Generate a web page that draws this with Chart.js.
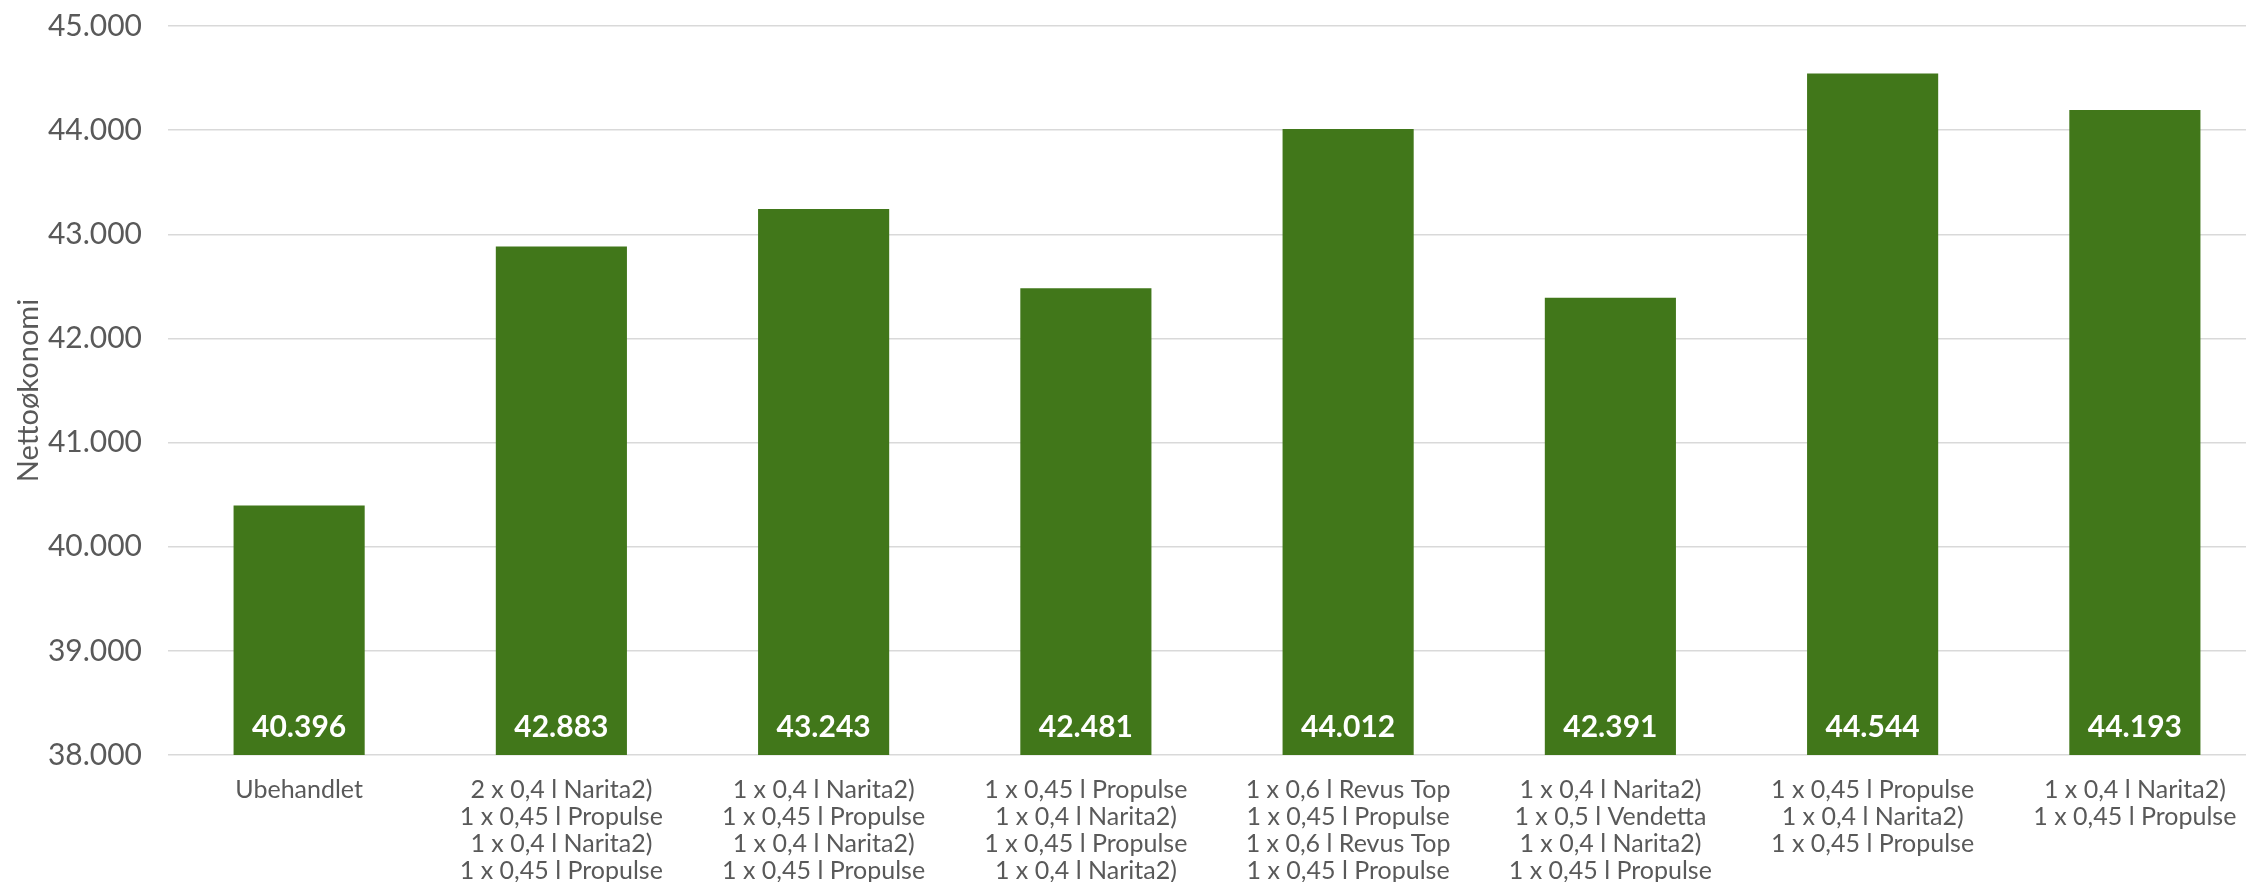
<!DOCTYPE html>
<html>
<head>
<meta charset="utf-8">
<script src="https://cdn.jsdelivr.net/npm/chart.js@4"></script>
<style>
  html, body { margin: 0; padding: 0; background: #fff; overflow: hidden; }
  #wrap { position: absolute; left: 0; top: 0; width: 2266px; height: 882px; }
</style>
</head>
<body>
<div id="wrap"><canvas id="nettoChart"></canvas></div>
<script>
const categories = [
  "Ubehandlet",
  ["2 x 0,4 l Narita2)", "1 x 0,45 l Propulse", "1 x 0,4 l Narita2)", "1 x 0,45 l Propulse"],
  ["1 x 0,4 l Narita2)", "1 x 0,45 l Propulse", "1 x 0,4 l Narita2)", "1 x 0,45 l Propulse"],
  ["1 x 0,45 l Propulse", "1 x 0,4 l Narita2)", "1 x 0,45 l Propulse", "1 x 0,4 l Narita2)"],
  ["1 x 0,6 l Revus Top", "1 x 0,45 l Propulse", "1 x 0,6 l Revus Top", "1 x 0,45 l Propulse"],
  ["1 x 0,4 l Narita2)", "1 x 0,5 l Vendetta", "1 x 0,4 l Narita2)", "1 x 0,45 l Propulse"],
  ["1 x 0,45 l Propulse", "1 x 0,4 l Narita2)", "1 x 0,45 l Propulse"],
  ["1 x 0,4 l Narita2)", "1 x 0,45 l Propulse"],
];
const nettoValues = [40396, 42883, 43243, 42481, 44012, 42391, 44544, 44193];
const yMin = 38000;
const yMax = 45000;
const yStep = 1000;

const colors = {
  bar: "#41771A",
  text: "#595959",
  grid: "#D9D9D9",
};

const fmt = (v) => Math.round(v).toString().replace(/\B(?=(\d{3})+(?!\d))/g, ".");

// white value labels at the foot of each bar
const barLabels = {
  id: "barLabels",
  afterDraw(chart) {
    const ctx = chart.ctx;
    const xScale = chart.scales.x;
    const yScale = chart.scales.y;
    const base = yScale.getPixelForValue(yMin);
    ctx.save();
    ctx.fillStyle = "#FFFFFF";
    ctx.font = "bold 30px Lato, sans-serif";
    ctx.textAlign = "center";
    ctx.textBaseline = "alphabetic";
    nettoValues.forEach((v, i) => {
      ctx.fillText(fmt(v), xScale.getPixelForValue(i), base - 18);
    });
    ctx.restore();
  },
};

new Chart(document.getElementById("nettoChart"), {
  type: "bar",
  data: {
    labels: categories,
    datasets: [
      {
        label: "Nettoøkonomi",
        data: nettoValues,
        backgroundColor: colors.bar,
        barPercentage: 0.5,
        categoryPercentage: 1,
      },
    ],
  },
  options: {
    responsive: true,
    maintainAspectRatio: false,
    animation: false,
    layout: {
      padding: { top: 26, right: 0, bottom: 0, left: 0 },
    },
    plugins: {
      legend: { display: false },
      tooltip: { enabled: false },
    },
    scales: {
      x: {
        grid: { display: false },
        border: { display: false },
        ticks: {
          color: colors.text,
          font: { family: "Lato", size: 25, lineHeight: 1.07 },
          padding: 14,
          maxRotation: 0,
          autoSkip: false,
        },
        afterFit(axis) {
          axis.height = 127;
        },
      },
      y: {
        min: yMin,
        max: yMax,
        grid: {
          color: colors.grid,
          lineWidth: 1.5,
          drawTicks: false,
        },
        border: { display: false },
        ticks: {
          stepSize: yStep,
          color: colors.text,
          font: { family: "Lato", size: 30 },
          padding: 26,
          callback: (v) => fmt(v),
        },
        title: {
          display: true,
          text: "Nettoøkonomi",
          color: colors.text,
          font: { family: "Lato", size: 29 },
          padding: { top: 11, bottom: 0 },
        },
        afterFit(axis) {
          axis.width = 168;
          axis.paddingTop = 0;
          axis.paddingBottom = 0;
        },
      },
    },
  },
  plugins: [barLabels],
});
</script>
</body>
</html>
